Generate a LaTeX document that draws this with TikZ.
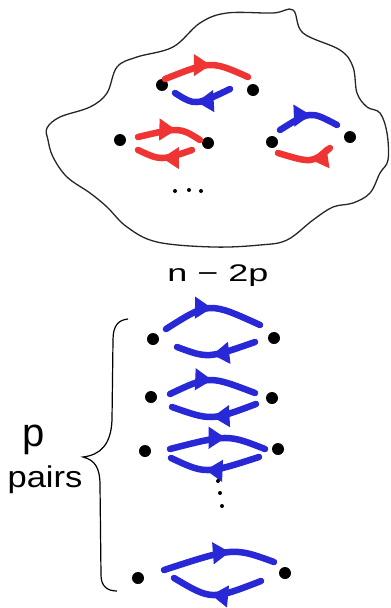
\documentclass[tikz,border=0pt]{standalone}
\usepackage{fontspec}
\setmainfont{Liberation Sans}
\usetikzlibrary{decorations.markings,arrows.meta}
\definecolor{penred}{RGB}{240,52,52}
\definecolor{penblue}{RGB}{40,40,215}
\begin{document}
\begin{tikzpicture}[x=1pt,y=-1pt,
  dot/.style={circle,fill=black,inner sep=0pt,minimum size=12pt},
  sdot/.style={circle,fill=black,inner sep=0pt,minimum size=4pt},
  flow/.style={line width=6.5pt,line cap=round,postaction={decorate},
    decoration={markings,mark=at position #1 with {\arrow{Triangle[length=17pt 0,width=21pt 0]}}}},
  flow/.default=0.55,
  lbl/.style={inner sep=0pt}]
\useasboundingbox (0,0) rectangle (391,608);
% blob
\draw[line width=1.3pt,black!85] plot[smooth cycle,tension=0.6] coordinates {
 (47,128) (60,117) (90,107) (107,93) (117,67) (137,57) (173,47) (200,23) (227,13)
 (273,13) (293,10) (303,33) (340,50) (353,67) (357,93) (367,107) (380,113) (387,133)
 (388,160) (380,173) (370,193) (353,203) (333,207) (313,220) (287,240) (260,245)
 (213,247) (157,242) (127,227) (107,207) (90,193) (67,177) (53,157) (48,140)};
% top pair
\node[dot] (a1) at (162,85) {};
\node[dot] (a2) at (253,90) {};
\draw[penred,flow=0.55] (165,79) .. controls (211.2,60.7) .. (248,77);
\draw[penblue,flow=0.6] (230,89) .. controls (195.2,105.7) .. (175,93);
% middle-left pair
\node[dot] (b1) at (120,140) {};
\node[dot] (b2) at (208,143) {};
\draw[penred,flow=0.6] (138,137) .. controls (179.7,127.2) .. (200,140);
\draw[penred,flow=0.55] (192,150) .. controls (161,160.7) .. (138,150);
% right pair
\node[dot] (c1) at (272,142) {};
\node[dot] (c2) at (350,137) {};
\draw[penblue,flow=0.55] (280,130) .. controls (310.5,110.8) .. (337,125);
\draw[penred,flow=0.4] (330,148) .. controls (312,163.2) .. (278,153);
% dots
\node[sdot] (e1) at (175,191) {};
\node[sdot] (e2) at (189,190) {};
\node[sdot] (e3) at (201,191) {};
% label
\node[lbl,xscale=1.5] (t) at (218,276) {\fontsize{24}{28}\selectfont n − 2p};
% bottom pairs
\node[dot] (p1) at (153,339) {};
\node[dot] (q1) at (274,338) {};
\draw[penblue,flow=0.5] (166,329) .. controls (209,301.7) .. (260,325);
\draw[penblue,flow=0.55] (255,342) .. controls (208,358.5) .. (177,347);
\node[dot] (p2) at (151,397) {};
\node[dot] (q2) at (272,398) {};
\draw[penblue,flow=0.5] (170,394) .. controls (209.2,375.5) .. (255,393);
\draw[penblue,flow=0.52] (256,404) .. controls (211.3,420.8) .. (172,407);
\node[dot] (p3) at (145,451) {};
\node[dot] (q3) at (278,449) {};
\draw[penblue,flow=0.58] (170,449) .. controls (227.5,434.3) .. (265,449);
\draw[penblue,flow=0.6] (259,457) .. controls (205.7,474.2) .. (171,458);
\node[sdot] (v1) at (218,481) {};
\node[sdot] (v2) at (220,493) {};
\node[sdot] (v3) at (222,506) {};
\node[dot] (p4) at (138,578) {};
\node[dot] (q4) at (285,573) {};
\draw[penblue,flow=0.6] (164,570) .. controls (233.7,547.3) .. (274,562);
\draw[penblue,flow=0.56] (261,581) .. controls (211.5,600.2) .. (174,578);
% brace
\draw[line width=1.2pt] (128,319) .. controls (118,320) and (113,326) .. (113,340)
  -- (112,420) .. controls (111,445) and (100,455) .. (83,457)
  .. controls (95,460) and (100,468) .. (100,485)
  -- (101,575) .. controls (101,586) and (107,591) .. (117,591);
\node[lbl] (pp) at (34,440) {\fontsize{40}{44}\selectfont p};
\node[lbl,xscale=1.15] (pairs) at (45,480) {\fontsize{30}{34}\selectfont pairs};
\end{tikzpicture}
\end{document}
